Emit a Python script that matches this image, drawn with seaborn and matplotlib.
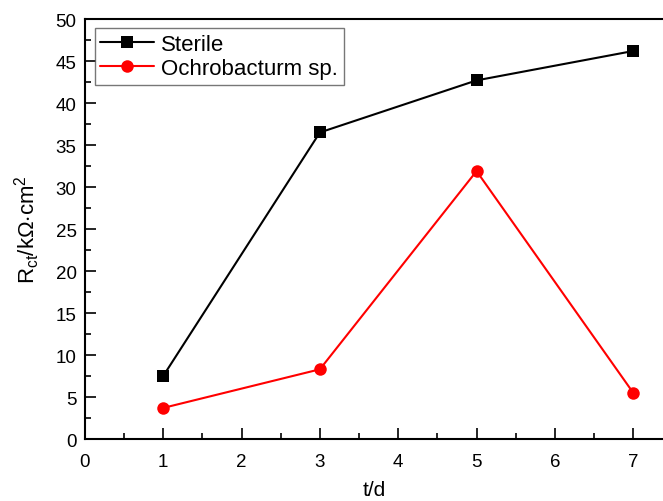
import pandas as pd
import matplotlib
matplotlib.use("Agg")
import matplotlib.pyplot as plt
import seaborn as sns
from matplotlib.ticker import MultipleLocator

# data
days = [1, 3, 5, 7]
sterile = [7.5, 36.5, 42.7, 46.2]
ochro = [3.7, 8.3, 31.9, 5.5]

df = pd.DataFrame({
    "t": days * 2,
    "R": sterile + ochro,
    "group": ["Sterile"] * 4 + ["Ochrobacturm sp."] * 4,
})

sns.set_style("ticks")
plt.rcParams["font.family"] = ["Liberation Sans", "DejaVu Sans"]
plt.rcParams["mathtext.fontset"] = "custom"
plt.rcParams["mathtext.rm"] = "Liberation Sans"
plt.rcParams["mathtext.it"] = "Liberation Sans"
plt.rcParams["text.color"] = "black"
plt.rcParams["axes.labelcolor"] = "black"
plt.rcParams["axes.edgecolor"] = "black"

fig = plt.figure(figsize=(6.63, 5.02), dpi=100)
ax = fig.add_axes([0.128, 0.1235, 0.872, 0.8365])

sns.lineplot(data=df, x="t", y="R", hue="group", style="group",
             palette={"Sterile": "black", "Ochrobacturm sp.": "red"},
             markers={"Sterile": "s", "Ochrobacturm sp.": "o"},
             dashes=False, markersize=9, linewidth=1.5,
             markeredgewidth=0, ax=ax)

ax.set_xlim(0, 7.38)
ax.set_ylim(0, 50)
ax.xaxis.set_major_locator(MultipleLocator(1))
ax.xaxis.set_minor_locator(MultipleLocator(0.5))
ax.yaxis.set_major_locator(MultipleLocator(5))
ax.yaxis.set_minor_locator(MultipleLocator(2.5))
ax.tick_params(which="both", direction="in", labelsize=13.5, width=1.2, colors="black")
ax.tick_params(which="major", length=8)
ax.tick_params(which="minor", length=4.5)
ax.tick_params(axis="x", pad=10)
ax.tick_params(axis="y", pad=6)
for s in ax.spines.values():
    s.set_linewidth(1.5)
ax.spines["right"].set_visible(False)

ax.set_xlabel("t/d", fontsize=15, labelpad=7)
ax.set_ylabel(r"R$_{\mathrm{ct}}$/k$\Omega$$\cdot$cm$^2$", fontsize=16, labelpad=10)

leg = ax.legend(loc="upper left", fontsize=16, frameon=True, fancybox=False,
                bbox_to_anchor=(0.017, 0.978), borderaxespad=0,
                handlelength=2.4, handletextpad=0.35,
                borderpad=0.25, labelspacing=0.15)
leg.get_frame().set_edgecolor("#555555")
leg.get_frame().set_linewidth(1.0)

fig.savefig("out.png", dpi=100)
